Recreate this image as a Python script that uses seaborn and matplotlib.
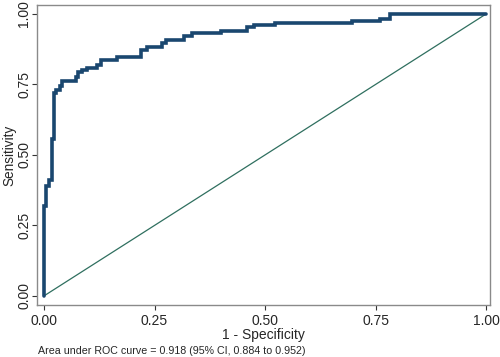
import pandas as pd
import numpy as np
import matplotlib
matplotlib.use('Agg')
import matplotlib.pyplot as plt
import seaborn as sns

# ROC curve vertices (1 - specificity, sensitivity)
fpr = [0.0, 0.0, 0.005, 0.005, 0.012, 0.012, 0.018, 0.018, 0.023, 0.023,
       0.027, 0.027, 0.036, 0.036, 0.041, 0.041, 0.072, 0.072, 0.077, 0.077,
       0.086, 0.086, 0.097, 0.097, 0.119, 0.119, 0.128, 0.128, 0.164, 0.164,
       0.219, 0.219, 0.232, 0.232, 0.267, 0.267, 0.276, 0.276, 0.317, 0.317,
       0.335, 0.335, 0.400, 0.400, 0.459, 0.459, 0.475, 0.475, 0.523, 0.523,
       0.697, 0.697, 0.760, 0.760, 0.783, 0.783, 1.0]
tpr = [0.0, 0.32, 0.32, 0.39, 0.39, 0.41, 0.41, 0.557, 0.557, 0.72,
       0.72, 0.73, 0.73, 0.745, 0.745, 0.762, 0.762, 0.777, 0.777, 0.794,
       0.794, 0.80, 0.80, 0.81, 0.81, 0.82, 0.82, 0.837, 0.837, 0.847,
       0.847, 0.872, 0.872, 0.883, 0.883, 0.897, 0.897, 0.908, 0.908, 0.922,
       0.922, 0.932, 0.932, 0.941, 0.941, 0.953, 0.953, 0.961, 0.961, 0.967,
       0.967, 0.976, 0.976, 0.984, 0.984, 1.0, 1.0]
ref_x = [0.0, 1.0]
ref_y = [0.0, 1.0]
ticks = [0.0, 0.25, 0.5, 0.75, 1.0]
tick_labels = ['0.00', '0.25', '0.50', '0.75', '1.00']
note = 'Area under ROC curve = 0.918 (95% CI, 0.884 to 0.952)'

sns.set_style('white')
plt.rcParams['font.family'] = ['Liberation Sans', 'DejaVu Sans']

roc = pd.DataFrame({'fpr': fpr, 'tpr': tpr})
ref = pd.DataFrame({'x': ref_x, 'y': ref_y})

fig = plt.figure(figsize=(5, 3.57), dpi=100)
ax = fig.add_axes([0.074, 0.146, 0.906, 0.840])

sns.lineplot(data=ref, x='x', y='y', ax=ax, color='#2f6f5f', linewidth=0.9,
             sort=False, estimator=None)
sns.lineplot(data=roc, x='fpr', y='tpr', ax=ax, color='#1a476f', linewidth=2.6,
             sort=False, estimator=None, solid_joinstyle='miter')

ax.set_xlim(-0.016, 1.009)
ax.set_ylim(-0.032, 1.032)
ax.set_xticks(ticks)
ax.set_xticklabels(tick_labels)
ax.set_yticks(ticks)
ax.set_yticklabels(tick_labels, rotation=90, va='center')
ax.tick_params(axis='both', direction='out', length=3.8, width=0.8, color='#333333',
               labelsize=10, left=True, bottom=True)
ax.tick_params(axis='x', pad=3)
ax.tick_params(axis='y', pad=0.5)
ax.set_xlabel('1 - Specificity', fontsize=10, labelpad=0)
ax.set_ylabel('Sensitivity', fontsize=9.8)
ax.yaxis.set_label_coords(-0.046, 0.5)
for s in ax.spines.values():
    s.set_color('#8a8a8a')
    s.set_linewidth(1.0)

fig.text(0.077, 0.004, note, fontsize=7.7, ha='left', va='bottom')

fig.savefig('out.png', dpi=100)
